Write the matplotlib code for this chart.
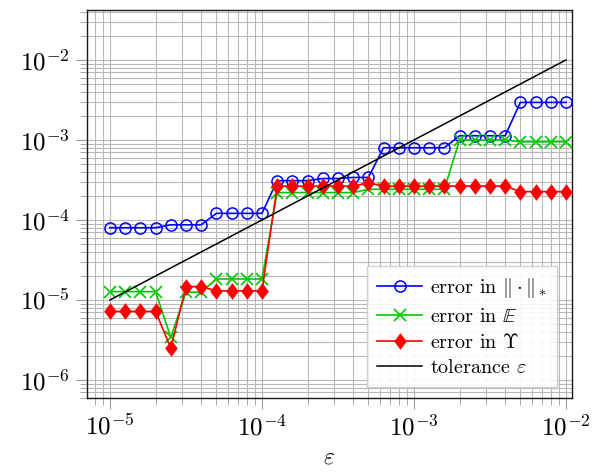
import matplotlib
matplotlib.use('Agg')
import matplotlib.pyplot as plt
from matplotlib import ticker
import numpy as np

plt.rcParams['font.family'] = 'serif'
plt.rcParams['font.serif'] = ['cmr10', 'DejaVu Serif']
plt.rcParams['mathtext.fontset'] = 'cm'
plt.rcParams['axes.formatter.use_mathtext'] = True

# tolerances: 10 steps per decade from 1e-5 to 1e-2
eps = 10.0 ** (-5 + np.arange(31) / 10)

err_norm = [8.0e-5, 8.0e-5, 8.0e-5, 8.0e-5, 8.7e-5, 8.7e-5, 8.7e-5,
            1.21e-4, 1.21e-4, 1.21e-4, 1.21e-4,
            3.1e-4, 3.1e-4, 3.1e-4, 3.3e-4, 3.3e-4, 3.4e-4, 3.4e-4,
            8.0e-4, 8.0e-4, 8.0e-4, 8.0e-4, 8.0e-4,
            1.13e-3, 1.13e-3, 1.13e-3, 1.13e-3,
            2.95e-3, 2.95e-3, 2.95e-3, 2.95e-3]
err_E = [1.27e-5, 1.27e-5, 1.27e-5, 1.27e-5, 3.4e-6, 1.25e-5, 1.25e-5,
         1.83e-5, 1.83e-5, 1.83e-5, 1.83e-5,
         2.2e-4, 2.2e-4, 2.2e-4, 2.2e-4, 2.2e-4, 2.2e-4, 2.42e-4,
         2.42e-4, 2.42e-4, 2.42e-4, 2.42e-4, 2.42e-4,
         1.0e-3, 1.0e-3, 1.0e-3, 1.0e-3,
         9.5e-4, 9.5e-4, 9.5e-4, 9.5e-4]
err_Y = [7.2e-6, 7.2e-6, 7.2e-6, 7.2e-6, 2.5e-6, 1.47e-5, 1.47e-5,
         1.3e-5, 1.3e-5, 1.3e-5, 1.3e-5,
         2.65e-4, 2.65e-4, 2.65e-4, 2.65e-4, 2.65e-4, 2.65e-4, 2.9e-4,
         2.65e-4, 2.65e-4, 2.65e-4, 2.65e-4, 2.65e-4,
         2.65e-4, 2.65e-4, 2.65e-4, 2.65e-4,
         2.26e-4, 2.26e-4, 2.26e-4, 2.26e-4]
tol = eps

diamond = [(0, 1), (0.75, 0), (0, -1), (-0.75, 0), (0, 1)]

fig = plt.figure(figsize=(5.94, 4.72), dpi=100)
ax = fig.add_axes([0.146, 0.1574, 0.817, 0.8214])

ax.plot(eps, err_norm, '-o', color='#0000ff', lw=1.2, ms=8, mfc='none', mew=1.1,
        label=r'error in $\|\cdot\|_*$', zorder=3)
ax.plot(eps, err_E, '-x', color='#00c800', lw=1.2, ms=9, mew=1.2,
        label=r'error in $\mathbb{E}$', zorder=3)
ax.plot(eps, err_Y, '-', marker=diamond, color='#ff0000', lw=1.2, ms=12, mew=0,
        label=r'error in $\Upsilon$', zorder=3)
ax.plot(eps, tol, '-', color='k', lw=1.1, label=r'tolerance $\varepsilon$', zorder=3)

ax.set_xscale('log')
ax.set_yscale('log')
ax.set_xlim(10 ** -5.153, 10 ** -1.96)
ax.set_ylim(10 ** -6.222, 10 ** -1.375)

for a in (ax.xaxis, ax.yaxis):
    a.set_major_locator(ticker.LogLocator(base=10, numticks=20))
    a.set_minor_locator(ticker.LogLocator(base=10, subs=np.arange(2, 10), numticks=100))
    a.set_minor_formatter(ticker.NullFormatter())

ax.grid(True, which='major', color='0.72', lw=0.8)
ax.grid(True, which='minor', color='0.72', lw=0.8)
ax.set_axisbelow(True)
ax.tick_params(which='major', direction='out', length=8, color='0.6', labelsize=18, pad=4)
ax.tick_params(which='minor', direction='out', length=5, color='0.6')
for s in ax.spines.values():
    s.set_linewidth(1.0)
    s.set_color('0.1')

ax.set_xlabel(r'$\varepsilon$', fontsize=17, labelpad=4)

leg = ax.legend(loc='lower right', bbox_to_anchor=(0.969, 0.028), borderaxespad=0,
                fontsize=14.5, handlelength=2.2, handletextpad=0.4, labelspacing=0.35,
                borderpad=0.5, fancybox=False, framealpha=0.9, edgecolor='0.8')
leg.get_frame().set_linewidth(1.0)

fig.savefig('out.png', dpi=100)
